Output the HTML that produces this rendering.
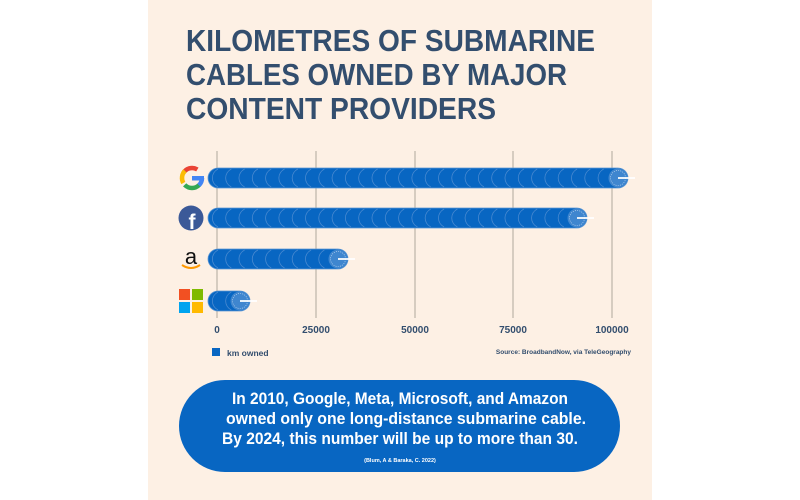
<!DOCTYPE html>
<html><head><meta charset="utf-8"><style>
html,body{margin:0;padding:0;background:#fff;}
svg{display:block;}
</style></head><body>
<svg id="s" width="800" height="500" xmlns="http://www.w3.org/2000/svg" font-family="Liberation Sans, sans-serif">
<rect x="0" y="0" width="800" height="500" fill="#fff"/>
<rect x="148" y="0" width="504" height="500" fill="#fdf0e4"/>
<g font-family="Liberation Sans Narrow, Liberation Sans, sans-serif" font-weight="bold" font-size="31" fill="#334e6e">
<text x="186" y="51" textLength="409" lengthAdjust="spacingAndGlyphs">KILOMETRES OF SUBMARINE</text>
<text x="186" y="85" textLength="381" lengthAdjust="spacingAndGlyphs">CABLES OWNED BY MAJOR</text>
<text x="186" y="119" textLength="310" lengthAdjust="spacingAndGlyphs">CONTENT PROVIDERS</text>
</g>
<g stroke="#c9bfb3" stroke-width="1.5">
<line x1="217" y1="151" x2="217" y2="318"/><line x1="316" y1="151" x2="316" y2="318"/>
<line x1="415" y1="151" x2="415" y2="318"/><line x1="513" y1="151" x2="513" y2="318"/>
<line x1="612" y1="151" x2="612" y2="318"/>
</g>
<g id="bars"></g>
<g font-size="10" font-weight="bold" fill="#334e6e" text-anchor="middle">
<text x="217" y="333">0</text><text x="316" y="333">25000</text><text x="415" y="333">50000</text><text x="513" y="333">75000</text><text x="612" y="333">100000</text>
</g>
<rect x="212" y="348" width="8" height="8" fill="#0866c2"/>
<text x="227" y="356" font-size="8.5" font-weight="bold" fill="#334e6e">km owned</text>
<text x="631" y="354" font-size="6.5" font-weight="bold" fill="#334e6e" text-anchor="end" font-family="Liberation Sans Narrow, sans-serif">Source: BroadbandNow, via TeleGeography</text>
<g>
<circle cx="192" cy="178" r="10" fill="none" stroke="#ea4335" stroke-width="4.5" stroke-dasharray="16 100" transform="rotate(-150 192 178)"/>
<circle cx="192" cy="178" r="10" fill="none" stroke="#fbbc05" stroke-width="4.5" stroke-dasharray="13 100" transform="rotate(150 192 178)"/>
<circle cx="192" cy="178" r="10" fill="none" stroke="#34a853" stroke-width="4.5" stroke-dasharray="16 100" transform="rotate(45 192 178)"/>
<circle cx="192" cy="178" r="10" fill="none" stroke="#4285f4" stroke-width="4.5" stroke-dasharray="8 100" transform="rotate(0 192 178)"/>
<rect x="192" y="176" width="12" height="4.5" fill="#4285f4"/>
<circle cx="191" cy="218" r="12.5" fill="#3b5998"/>
<text x="192" y="229" font-size="21" font-weight="bold" fill="#fff" text-anchor="middle">f</text>
<text x="191" y="264" font-size="22" fill="#111" text-anchor="middle">a</text>
<path d="M182 265 Q191 271 200 265" stroke="#f90" stroke-width="2" fill="none"/>
<rect x="179" y="289" width="11" height="11" fill="#f25022"/><rect x="192" y="289" width="11" height="11" fill="#7fba00"/>
<rect x="179" y="302" width="11" height="11" fill="#00a4ef"/><rect x="192" y="302" width="11" height="11" fill="#ffb900"/>
</g>
<rect x="179" y="380" width="441" height="92" rx="46" fill="#0866c2"/>
<g fill="#fff" font-weight="bold" text-anchor="middle" font-family="Liberation Sans Narrow, Liberation Sans, sans-serif">
<text x="400" y="404" font-size="17" textLength="336" lengthAdjust="spacingAndGlyphs">In 2010, Google, Meta, Microsoft, and Amazon</text>
<text x="406" y="424" font-size="17" textLength="360" lengthAdjust="spacingAndGlyphs">owned only one long-distance submarine cable.</text>
<text x="400" y="444" font-size="17" textLength="356" lengthAdjust="spacingAndGlyphs">By 2024, this number will be up to more than 30.</text>
<text x="400" y="462" font-size="5.5">(Blum, A &amp; Baraka, C. 2022)</text>
</g>
</svg>
<script>
(function(){
var g=document.getElementById('bars'),ns='http://www.w3.org/2000/svg';
var bars=[[178,628],[218,587],[259,348],[301,250]];
function el(n,a){var e=document.createElementNS(ns,n);for(var k in a)e.setAttribute(k,a[k]);g.appendChild(e);return e;}
bars.forEach(function(b){
var cy=b[0],end=b[1],r=10;
el('rect',{x:208,y:cy-r,width:end-208,height:2*r,rx:r,fill:'#0866c2',stroke:'#5b96d4','stroke-width':0.8});
for(var x=208+r;x<end-r-2;x+=13.3){
el('path',{d:'M'+(x)+' '+(cy-r+1)+' A'+r+' '+r+' 0 0 0 '+(x)+' '+(cy+r-1),fill:'none',stroke:'#4a8ad0','stroke-width':0.8});
}
el('circle',{cx:end-r,cy:cy,r:r-0.5,fill:'#3f86cf'});
el('circle',{cx:end-r,cy:cy,r:r-2.5,fill:'none',stroke:'#cfe2f5','stroke-width':0.6,'stroke-dasharray':'1 1.2'});
el('line',{x1:end-r,y1:cy,x2:end+7,y2:cy,stroke:'#fff','stroke-width':1.8});
});
})();
</script>
</body></html>
